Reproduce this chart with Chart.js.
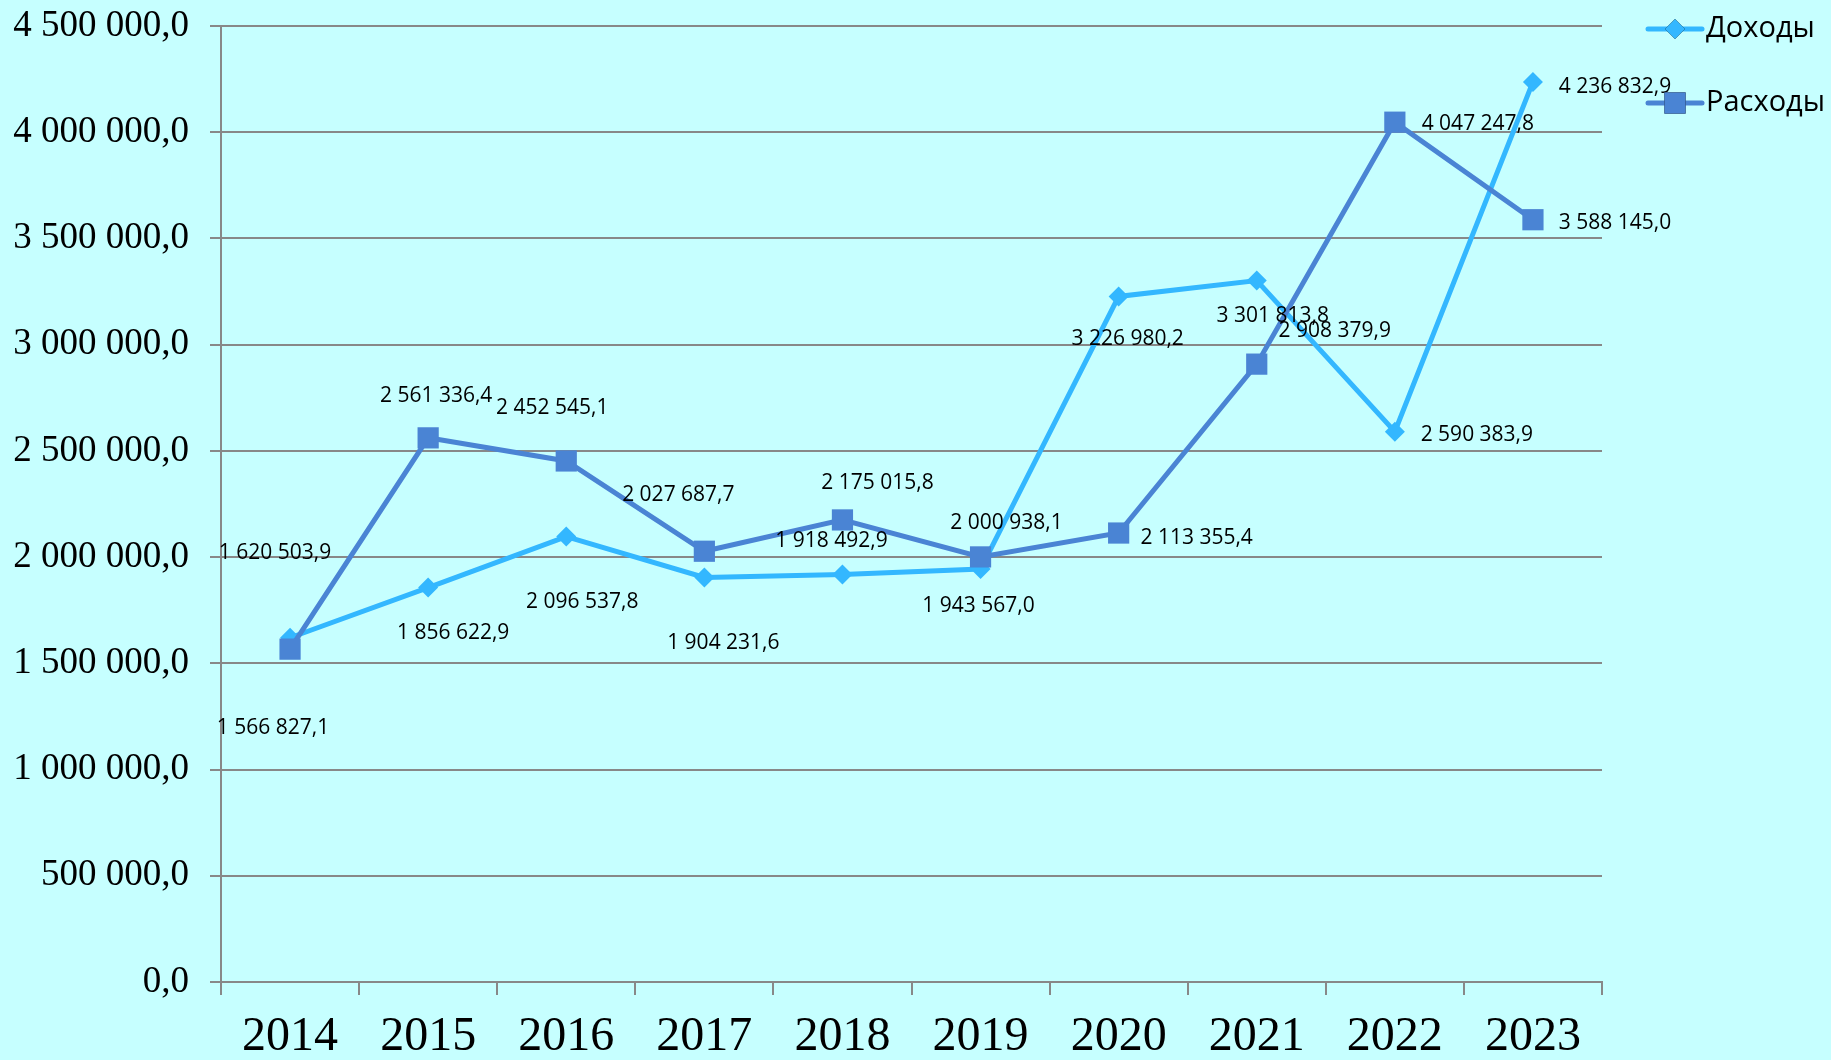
<!DOCTYPE html>
<html lang="ru">
<head>
<meta charset="UTF-8">
<title>Доходы и расходы</title>
<script src="https://cdn.jsdelivr.net/npm/chart.js"></script>
<style>
  html, body { margin: 0; padding: 0; background: #C6FFFF; }
  #wrap { width: 1831px; height: 1060px; position: relative; }
</style>
</head>
<body>
<div id="wrap"><canvas id="chart"></canvas></div>
<script>
// годы
const years = ['2014', '2015', '2016', '2017', '2018', '2019', '2020', '2021', '2022', '2023'];
// Доходы
const dohody = [1620503.9, 1856622.9, 2096537.8, 1904231.6, 1918492.9, 1943567.0, 3226980.2, 3301813.8, 2590383.9, 4236832.9];
// Расходы
const rashody = [1566827.1, 2561336.4, 2452545.1, 2027687.7, 2175015.8, 2000938.1, 2113355.4, 2908379.9, 4047247.8, 3588145.0];
// шкала Y
const yMin = 0;
const yMax = 4500000;
const yStep = 500000;

// сдвиг подписей данных относительно точки (как в исходной диаграмме)
const dohodyLabelShift = [[-15, -85], [25, 45], [16, 65], [19, 66], [-11, -33], [-2, 37], [9, 43], [16, 35], [82, 3], [82, 5]];
const rashodyLabelShift = [[-17, 79], [8, -42], [-14, -53], [-26, -56], [35, -37], [26, -34], [78, 5], [78, -33], [83, 2], [82, 3]];

const colDohody = '#33B7FF';
const colRashody = '#4A84D4';
const gridCol = '#888888';

function fmt(v) {
    const s = Math.abs(v).toFixed(1).split('.');
    const int = s[0].replace(/\B(?=(\d{3})+(?!\d))/g, ' ');
    return (v < 0 ? '-' : '') + int + ',' + s[1];
}

// подписи значений у точек
const valueLabels = {
    id: 'valueLabels',
    afterDatasetsDraw(chart) {
        const ctx = chart.ctx;
        ctx.save();
        ctx.font = '21px "Open Sans"';
        ctx.fillStyle = '#000';
        ctx.textAlign = 'center';
        ctx.textBaseline = 'middle';
        chart.data.datasets.forEach((ds, i) => {
            const meta = chart.getDatasetMeta(i);
            meta.data.forEach((pt, j) => {
                const sh = ds.labelShift[j];
                ctx.fillText(fmt(ds.data[j]), pt.x + sh[0], pt.y + sh[1]);
            });
        });
        ctx.restore();
    }
};

// легенда справа: линия с маркером
const sideLegend = {
    id: 'sideLegend',
    afterDraw(chart) {
        const ctx = chart.ctx;
        const x0 = chart.chartArea.right + 46;
        const rows = [29, 103];
        ctx.save();
        chart.data.datasets.forEach((ds, i) => {
            const y = rows[i];
            ctx.strokeStyle = ds.borderColor;
            ctx.lineWidth = 5;
            ctx.lineCap = 'round';
            ctx.beginPath();
            ctx.moveTo(x0, y);
            ctx.lineTo(x0 + 54, y);
            ctx.stroke();
            Chart.helpers.drawPoint(ctx, {
                pointStyle: ds.pointStyle,
                radius: ds.pointRadius,
                borderWidth: 0
            }, x0 + 27, y);
            ctx.fillStyle = ds.backgroundColor;
            ctx.fill();
            ctx.fillStyle = '#000';
            ctx.font = '29px "Open Sans"';
            ctx.textAlign = 'left';
            ctx.textBaseline = 'middle';
            ctx.fillText(ds.label, x0 + 58, y);
        });
        ctx.restore();
    }
};

new Chart(document.getElementById('chart').getContext('2d'), {
    type: 'line',
    data: {
        labels: years,
        datasets: [
            {
                label: 'Доходы',
                data: dohody,
                labelShift: dohodyLabelShift,
                borderColor: colDohody,
                backgroundColor: colDohody,
                borderWidth: 5,
                pointStyle: 'rectRot',
                pointRadius: 10,
                pointBorderWidth: 0,
                tension: 0,
                order: 1
            },
            {
                label: 'Расходы',
                data: rashody,
                labelShift: rashodyLabelShift,
                borderColor: colRashody,
                backgroundColor: colRashody,
                borderWidth: 5,
                pointStyle: 'rect',
                pointRadius: 15,
                pointBorderWidth: 0,
                tension: 0,
                order: 0
            }
        ]
    },
    options: {
        responsive: true,
        maintainAspectRatio: false,
        animation: false,
        layout: { padding: { top: 26, right: 229, left: 0, bottom: 0 } },
        plugins: {
            legend: { display: false },
            tooltip: { enabled: false }
        },
        scales: {
            x: {
                offset: true,
                afterFit(scale) { scale.height = 78; },
                grid: {
                    offset: true,
                    drawOnChartArea: false,
                    drawTicks: true,
                    tickLength: 13,
                    color: gridCol,
                    lineWidth: 2
                },
                border: { display: true, color: gridCol, width: 2 },
                ticks: {
                    padding: 14,
                    color: '#000',
                    font: { family: '"Liberation Serif", "Times New Roman", serif', size: 48 }
                }
            },
            y: {
                min: yMin,
                max: yMax,
                afterFit(scale) {
                    scale.width = 221;
                    scale.paddingTop = 0;
                    scale.paddingBottom = 0;
                },
                grid: {
                    color: gridCol,
                    lineWidth: 2,
                    drawTicks: true,
                    tickLength: 11
                },
                border: { display: true, color: gridCol, width: 2 },
                ticks: {
                    stepSize: yStep,
                    padding: 21,
                    color: '#000',
                    font: { family: '"Liberation Serif", "Times New Roman", serif', size: 37 },
                    callback: (v) => fmt(v)
                }
            }
        }
    },
    plugins: [valueLabels, sideLegend]
});
</script>
</body>
</html>
